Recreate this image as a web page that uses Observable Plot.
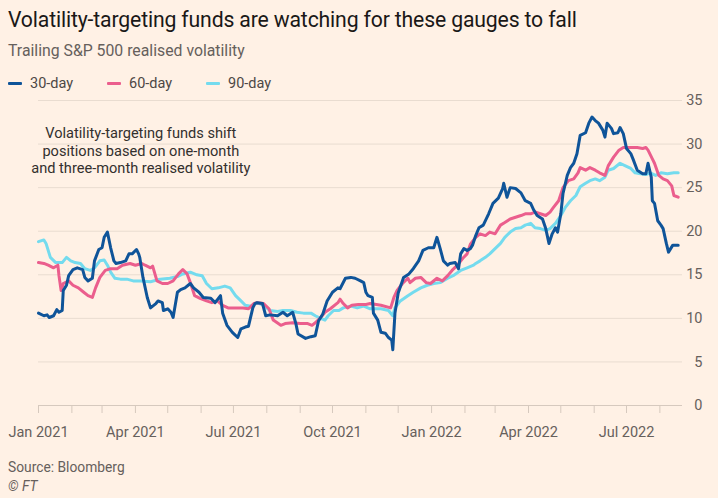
<!DOCTYPE html>
<html>
<head>
<meta charset="utf-8">
<script src="https://cdn.jsdelivr.net/npm/d3@7"></script>
<script src="https://cdn.jsdelivr.net/npm/@observablehq/plot@0.6"></script>
<style>
  html, body { margin: 0; padding: 0; background: #fff1e5; }
  body { width: 718px; height: 498px; position: relative; overflow: hidden; font-family: Roboto, "Noto Sans", sans-serif; }
  #title { position: absolute; left: 8px; top: 7px; font-size: 21.2px; color: #1a1817; letter-spacing: -0.15px; white-space: nowrap; }
  #subtitle { position: absolute; left: 8px; top: 41px; font-size: 15.8px; color: #66605c; white-space: nowrap; }
  #legend { position: absolute; left: 8px; top: 75px; font-size: 14.5px; color: #4d4845; display: flex; }
  .item { display: flex; align-items: center; width: 99px; }
  .sw { display: inline-block; width: 14px; height: 3px; margin-right: 8px; border-radius: 1px; }
  #chart { position: absolute; left: 0; top: 90px; }
  #source { position: absolute; left: 8px; top: 459px; font-size: 13.8px; color: #66605c; }
  #ft { position: absolute; left: 8px; top: 478px; font-size: 13.8px; color: #66605c; font-style: italic; }
</style>
</head>
<body>
<div id="title">Volatility-targeting funds are watching for these gauges to fall</div>
<div id="subtitle">Trailing S&amp;P 500 realised volatility</div>
<div id="legend"></div>
<div id="chart"></div>
<div id="source">Source: Bloomberg</div>
<div id="ft">© FT</div>
<script>
// Trailing S&P 500 realised volatility, annualised %, by window length
const seriesNames = ["30-day", "60-day", "90-day"];
const seriesColors = ["#0f5499", "#eb5e8d", "#74dbee"];

const dates30 = ["2021-01-01","2021-01-06","2021-01-09","2021-01-11","2021-01-15","2021-01-18","2021-01-20","2021-01-23","2021-01-24","2021-01-27","2021-01-29","2021-02-02","2021-02-06","2021-02-11","2021-02-13","2021-02-16","2021-02-20","2021-02-22","2021-02-26","2021-03-01","2021-03-03","2021-03-06","2021-03-09","2021-03-12","2021-03-14","2021-03-18","2021-03-23","2021-03-26","2021-03-29","2021-04-02","2021-04-04","2021-04-05","2021-04-08","2021-04-12","2021-04-15","2021-04-20","2021-04-22","2021-04-26","2021-04-27","2021-05-01","2021-05-04","2021-05-06","2021-05-10","2021-05-13","2021-05-17","2021-05-22","2021-05-25","2021-05-30","2021-06-03","2021-06-10","2021-06-14","2021-06-19","2021-06-21","2021-06-25","2021-06-30","2021-07-05","2021-07-08","2021-07-12","2021-07-15","2021-07-19","2021-07-21","2021-07-23","2021-07-28","2021-07-31","2021-08-04","2021-08-11","2021-08-16","2021-08-20","2021-08-25","2021-08-28","2021-08-30","2021-09-06","2021-09-11","2021-09-15","2021-09-18","2021-09-22","2021-09-26","2021-10-01","2021-10-06","2021-10-08","2021-10-13","2021-10-18","2021-10-22","2021-10-27","2021-10-30","2021-11-01","2021-11-03","2021-11-07","2021-11-08","2021-11-12","2021-11-15","2021-11-19","2021-11-22","2021-11-25","2021-11-26","2021-11-28","2021-12-01","2021-12-06","2021-12-11","2021-12-15","2021-12-20","2021-12-24","2021-12-29","2022-01-03","2022-01-06","2022-01-09","2022-01-12","2022-01-16","2022-01-18","2022-01-23","2022-01-26","2022-01-28","2022-01-31","2022-02-03","2022-02-06","2022-02-08","2022-02-11","2022-02-14","2022-02-18","2022-02-23","2022-02-27","2022-03-04","2022-03-08","2022-03-09","2022-03-12","2022-03-15","2022-03-20","2022-03-25","2022-03-29","2022-04-03","2022-04-06","2022-04-09","2022-04-14","2022-04-17","2022-04-20","2022-04-23","2022-04-26","2022-04-28","2022-05-01","2022-05-03","2022-05-07","2022-05-10","2022-05-13","2022-05-16","2022-05-19","2022-05-24","2022-05-27","2022-05-30","2022-06-02","2022-06-05","2022-06-09","2022-06-11","2022-06-13","2022-06-17","2022-06-19","2022-06-23","2022-06-25","2022-06-28","2022-07-01","2022-07-05","2022-07-07","2022-07-11","2022-07-16","2022-07-19","2022-07-21","2022-07-24","2022-07-25","2022-07-27","2022-07-30","2022-08-02","2022-08-04","2022-08-07","2022-08-09","2022-08-13","2022-08-18"];
const vol30 = [10.6,10.3,10.4,10.1,10.3,11.0,10.7,10.9,13.2,13.8,14.9,15.6,15.8,15.6,14.7,14.3,14.6,16.6,17.9,18.1,19.3,19.9,18.1,16.6,16.3,16.4,16.6,17.4,17.4,17.9,17.4,17.0,14.7,12.4,11.2,11.7,12.0,11.8,10.9,11.1,10.7,10.1,13.0,13.3,13.5,14.0,13.5,13.0,12.4,12.3,11.8,12.6,10.6,9.2,8.4,7.8,8.8,9.0,9.1,11.2,11.7,11.8,11.7,10.3,10.4,10.3,10.7,10.3,10.7,9.4,8.2,7.7,7.9,8.0,9.7,10.5,12.0,13.0,13.5,13.4,14.6,14.7,14.6,14.3,14.1,13.0,12.6,12.4,10.6,9.8,8.4,8.3,7.8,7.5,6.4,10.6,12.9,14.7,15.1,15.7,16.6,17.8,18.1,18.1,19.3,18.0,16.6,16.1,16.3,16.4,15.7,17.4,18.0,17.8,18.0,18.4,19.5,20.4,20.7,22.0,23.2,23.8,24.9,25.5,23.9,25.0,24.9,24.4,23.5,23.2,22.4,21.8,21.4,20.3,18.6,19.7,20.4,19.9,22.0,24.3,26.4,27.3,27.8,28.9,31.0,31.3,32.4,33.1,32.7,32.4,31.6,30.8,32.4,31.8,31.2,31.3,31.9,31.2,29.5,28.9,28.3,27.0,26.6,26.6,27.8,26.2,23.5,23.2,21.2,20.7,20.3,18.6,17.6,18.4,18.4];

const dates60 = ["2021-01-01","2021-01-06","2021-01-10","2021-01-15","2021-01-19","2021-01-20","2021-01-22","2021-01-24","2021-01-29","2021-02-02","2021-02-07","2021-02-12","2021-02-16","2021-02-20","2021-02-23","2021-02-27","2021-03-04","2021-03-09","2021-03-15","2021-03-20","2021-03-27","2021-04-01","2021-04-07","2021-04-10","2021-04-15","2021-04-17","2021-04-21","2021-04-26","2021-05-01","2021-05-06","2021-05-11","2021-05-15","2021-05-19","2021-05-22","2021-05-26","2021-05-31","2021-06-06","2021-06-11","2021-06-16","2021-06-21","2021-06-26","2021-07-05","2021-07-10","2021-07-15","2021-07-20","2021-07-23","2021-07-29","2021-08-03","2021-08-07","2021-08-14","2021-08-18","2021-08-25","2021-09-01","2021-09-08","2021-09-12","2021-09-15","2021-09-20","2021-09-24","2021-09-29","2021-10-06","2021-10-08","2021-10-11","2021-10-15","2021-10-19","2021-10-25","2021-11-01","2021-11-05","2021-11-15","2021-11-24","2021-11-27","2021-11-30","2021-12-05","2021-12-10","2021-12-12","2021-12-17","2021-12-22","2021-12-27","2021-12-31","2022-01-06","2022-01-11","2022-01-16","2022-01-20","2022-01-25","2022-01-30","2022-02-03","2022-02-06","2022-02-11","2022-02-15","2022-02-20","2022-02-24","2022-03-01","2022-03-06","2022-03-10","2022-03-15","2022-03-20","2022-03-25","2022-03-29","2022-04-03","2022-04-07","2022-04-12","2022-04-17","2022-04-21","2022-04-24","2022-04-29","2022-05-03","2022-05-08","2022-05-13","2022-05-17","2022-05-19","2022-05-24","2022-05-28","2022-06-02","2022-06-06","2022-06-11","2022-06-14","2022-06-19","2022-06-24","2022-06-28","2022-07-05","2022-07-11","2022-07-16","2022-07-19","2022-07-21","2022-07-25","2022-07-27","2022-07-31","2022-08-04","2022-08-08","2022-08-12","2022-08-14","2022-08-18"];
const vol60 = [16.4,16.3,16.1,15.8,16.1,14.9,13.2,14.0,14.3,13.8,13.5,13.0,12.6,12.4,13.5,14.7,15.5,15.7,15.7,16.1,16.3,16.1,16.3,16.1,15.8,16.0,14.3,14.0,14.0,14.3,15.1,15.6,15.1,14.1,12.6,12.3,12.0,11.8,12.0,11.5,11.2,11.2,11.2,11.1,11.7,11.8,11.7,11.1,9.8,9.2,9.4,9.5,9.4,9.4,9.2,9.5,10.1,10.7,11.1,11.8,12.2,11.7,11.2,11.5,11.6,11.6,11.7,11.5,11.2,12.4,13.2,14.0,14.6,14.1,14.6,14.7,14.1,14.0,14.6,14.3,14.9,15.5,16.1,16.9,17.4,18.5,19.3,19.7,19.5,19.9,19.7,20.7,21.0,21.4,21.6,21.8,22.0,22.0,22.2,22.0,21.8,22.2,22.7,23.5,25.0,25.8,26.0,26.7,27.3,27.0,27.3,27.0,26.7,26.4,27.5,28.5,29.3,29.6,29.6,29.6,29.5,29.6,29.3,28.3,27.8,26.4,26.0,25.8,25.2,24.1,23.9];

const dates90 = ["2021-01-01","2021-01-06","2021-01-08","2021-01-12","2021-01-17","2021-01-23","2021-01-27","2021-01-31","2021-02-04","2021-02-09","2021-02-13","2021-02-18","2021-02-22","2021-02-27","2021-03-03","2021-03-06","2021-03-09","2021-03-13","2021-03-18","2021-03-24","2021-03-30","2021-04-06","2021-04-15","2021-04-24","2021-05-03","2021-05-10","2021-05-15","2021-05-22","2021-05-28","2021-06-02","2021-06-06","2021-06-11","2021-06-17","2021-06-23","2021-06-28","2021-07-03","2021-07-08","2021-07-12","2021-07-17","2021-07-23","2021-07-29","2021-08-04","2021-08-11","2021-08-16","2021-08-23","2021-08-29","2021-09-04","2021-09-11","2021-09-15","2021-09-20","2021-09-24","2021-09-27","2021-10-02","2021-10-07","2021-10-11","2021-10-18","2021-10-24","2021-10-30","2021-11-05","2021-11-15","2021-11-22","2021-11-26","2021-11-28","2021-12-03","2021-12-10","2021-12-15","2021-12-22","2021-12-28","2022-01-03","2022-01-09","2022-01-16","2022-01-21","2022-01-28","2022-02-03","2022-02-09","2022-02-11","2022-02-15","2022-02-20","2022-02-24","2022-03-01","2022-03-06","2022-03-10","2022-03-15","2022-03-20","2022-03-25","2022-03-29","2022-04-03","2022-04-07","2022-04-12","2022-04-17","2022-04-21","2022-04-26","2022-05-01","2022-05-05","2022-05-10","2022-05-15","2022-05-19","2022-05-24","2022-05-28","2022-06-02","2022-06-06","2022-06-11","2022-06-14","2022-06-19","2022-06-25","2022-06-30","2022-07-05","2022-07-09","2022-07-14","2022-07-19","2022-07-23","2022-07-28","2022-08-02","2022-08-08","2022-08-14","2022-08-18"];
const vol90 = [18.8,19.0,18.6,17.0,16.4,16.4,17.0,16.6,16.4,16.3,15.7,15.5,15.8,16.6,16.7,16.1,15.3,14.6,14.5,14.5,14.3,14.3,14.2,14.5,14.6,14.8,15.1,15.3,15.0,14.9,14.0,13.4,13.5,13.7,13.5,12.6,12.0,11.5,11.4,11.8,11.5,10.9,10.8,10.9,10.9,10.7,10.6,10.6,10.3,10.0,9.8,10.3,10.9,10.9,11.2,11.4,11.2,11.4,11.1,11.1,10.9,10.3,11.2,12.0,12.6,13.0,13.5,13.8,14.0,14.1,14.6,14.9,15.5,15.8,16.1,16.3,16.6,17.0,17.4,18.0,18.6,19.3,19.9,20.3,20.4,20.7,20.9,20.4,20.3,20.1,20.3,20.9,21.8,22.7,23.5,24.1,25.1,25.5,25.8,26.0,25.8,26.2,27.0,27.2,27.8,27.5,27.2,26.7,26.6,26.5,26.7,26.4,26.7,26.6,26.7,26.7];

const yTicks = [0, 5, 10, 15, 20, 25, 30, 35];
const xDomain = ["2021-01-01", "2022-08-22"];
const noteText = "Volatility-targeting funds shift\npositions based on one-month\nand three-month realised volatility";
const notePosition = {date: "2021-04-06", value: 29.3};

const parse = d3.utcParse("%Y-%m-%d");
const toRows = (dates, values) => dates.map((d, i) => ({date: parse(d), value: values[i]}));
const rows = [toRows(dates30, vol30), toRows(dates60, vol60), toRows(dates90, vol90)];

// legend
const legend = document.getElementById("legend");
seriesNames.forEach((name, i) => {
  const item = document.createElement("div");
  item.className = "item";
  item.innerHTML = `<span class="sw" style="background:${seriesColors[i]}"></span>${name}`;
  legend.appendChild(item);
});

const chart = Plot.plot({
  width: 718,
  height: 360,
  marginTop: 10,
  marginBottom: 45,
  marginLeft: 38,
  marginRight: 36,
  style: {background: "transparent", fontFamily: "Roboto, 'Noto Sans', sans-serif", fontSize: "14px", color: "#66605c"},
  x: {type: "utc", domain: xDomain.map(parse)},
  y: {domain: [0, 35]},
  marks: [
    Plot.ruleY(yTicks.filter(d => d > 0), {stroke: "#e9dcd0", strokeWidth: 1}),
    Plot.ruleY([0], {stroke: "#d6c9be", strokeWidth: 1}),
    Plot.axisY(yTicks, {anchor: "right", tickSize: 0, tickPadding: 0, dx: 20, textAnchor: "end", label: null, fill: "#66605c", fontSize: 14.5}),
    Plot.axisX({ticks: d3.utcMonth.every(1), tickSize: 8, stroke: "#d6c9be", tickFormat: () => "", label: null}),
    Plot.axisX({ticks: d3.utcMonth.every(3), tickSize: 0, tickPadding: 21, tickFormat: d3.utcFormat("%b %Y"), label: null, fill: "#66605c", fontSize: 14.5}),
    Plot.line(rows[2], {x: "date", y: "value", stroke: seriesColors[2], strokeWidth: 3, strokeLinejoin: "round"}),
    Plot.line(rows[1], {x: "date", y: "value", stroke: seriesColors[1], strokeWidth: 3, strokeLinejoin: "round"}),
    Plot.line(rows[0], {x: "date", y: "value", stroke: seriesColors[0], strokeWidth: 3, strokeLinejoin: "round"}),
    Plot.text([notePosition], {x: d => parse(d.date), y: "value", text: () => noteText, fill: "#33302e", fontSize: 14.6, lineHeight: 1.18, textAnchor: "middle"})
  ]
});
document.getElementById("chart").appendChild(chart);
</script>
</body>
</html>
